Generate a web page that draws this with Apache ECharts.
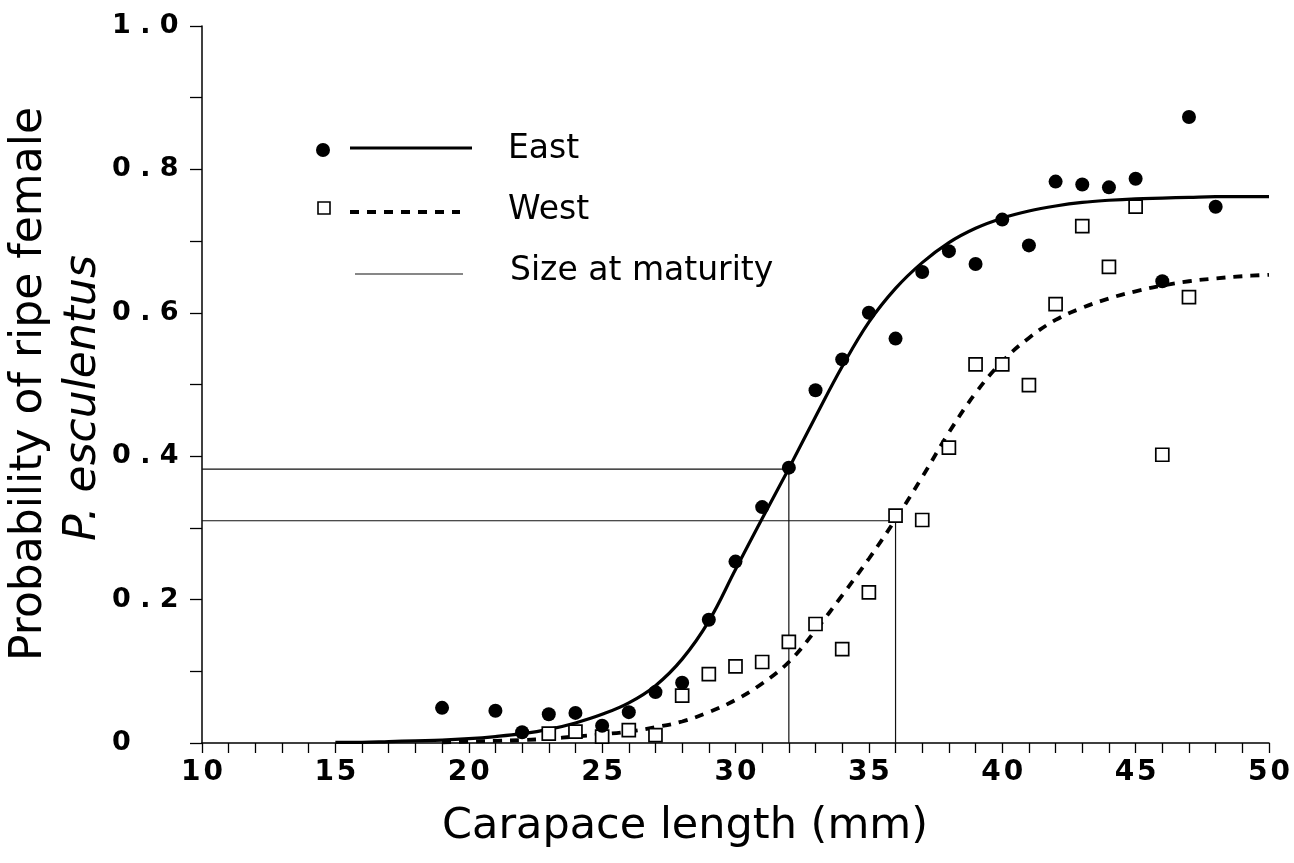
<!DOCTYPE html>
<html>
<head>
<meta charset="utf-8">
<script src="https://cdn.jsdelivr.net/npm/echarts@6/dist/echarts.min.js"></script>
<style>
html,body{margin:0;padding:0;background:#fff;}
#chart{width:1294px;height:863px;}
</style>
</head>
<body>
<div id="chart"></div>
<script>
// Observed proportions (carapace length in mm)
const eastX = [19,21,22,23,24,25,26,27,28,29,30,31,32,33,34,35,36,37,38,39,40,41,42,43,44,45,46,47,48];
const eastY = [0.049,0.045,0.015,0.040,0.042,0.024,0.043,0.071,0.084,0.172,0.253,0.329,0.384,0.492,0.535,0.600,0.564,0.657,0.686,0.668,0.730,0.694,0.783,0.779,0.775,0.787,0.644,0.873,0.748];
const westX = [23,24,25,26,27,28,29,30,31,32,33,34,35,36,37,38,39,40,41,42,43,44,45,46,47];
const westY = [0.013,0.016,0.009,0.018,0.011,0.066,0.096,0.107,0.113,0.141,0.166,0.131,0.210,0.317,0.311,0.412,0.528,0.528,0.499,0.612,0.721,0.664,0.748,0.402,0.622];

// Fitted curves at each mm
const eastFitX = [15,16,17,18,19,20,21,22,23,24,25,26,27,28,29,30,31,32,33,34,35,36,37,38,39,40,41,42,43,44,45,46,47,48,49,50];
const eastFitY = [0.001,0.001,0.002,0.003,0.004,0.006,0.009,0.013,0.019,0.028,0.040,0.056,0.080,0.117,0.170,0.242,0.313,0.383,0.455,0.525,0.587,0.634,0.670,0.698,0.718,0.732,0.742,0.749,0.754,0.757,0.759,0.760,0.761,0.762,0.762,0.762];
const westFitX = [19,20,21,22,23,24,25,26,27,28,29,30,31,32,33,34,35,36,37,38,39,40,41,42,43,44,45,46,47,48,49,50];
const westFitY = [0.001,0.002,0.003,0.004,0.006,0.009,0.012,0.016,0.022,0.030,0.043,0.060,0.083,0.113,0.157,0.206,0.257,0.312,0.371,0.433,0.488,0.532,0.565,0.590,0.607,0.620,0.630,0.638,0.644,0.648,0.651,0.653];

// Size at maturity
const maturityEast = {size: 32, prob: 0.382};
const maturityWest = {size: 36, prob: 0.310};

// Axis ticks
const xLabelTicks = [10,15,20,25,30,35,40,45,50];
const yLabelTicks = [0,0.2,0.4,0.6,0.8,1.0];
const legendLabels = ['East','West','Size at maturity'];
const xTitle = 'Carapace length (mm)';
const yTitle1 = 'Probability of ripe female';
const yTitle2 = 'P. esculentus';

const zip = (xs, ys) => xs.map((x, i) => [x, ys[i]]);
const FONT = '"DejaVu Sans", sans-serif';

const chart = echarts.init(document.getElementById('chart'), null, {renderer: 'canvas'});

function spaced(v) {
  if (Math.abs(v) < 1e-9) return '0';
  return v.toFixed(1).split('').join(' ');
}

const option = {
  backgroundColor: '#fff',
  animation: false,
  grid: {left: 202, right: 25, top: 26, bottom: 120, containLabel: false},
  xAxis: {
    type: 'value', min: 10, max: 50, interval: 1,
    axisLine: {show: true, lineStyle: {color: '#000', width: 1.5}},
    axisTick: {show: true, length: 10, inside: false, lineStyle: {color: '#000', width: 1.3}},
    splitLine: {show: false},
    axisLabel: {
      margin: 16, fontSize: 28, fontWeight: 'bold', fontFamily: FONT, color: '#000',
      formatter: v => xLabelTicks.some(t => Math.abs(t - v) < 1e-6) ? String(Math.round(v)).split('').join('\u200A') : ''
    }
  },
  yAxis: {
    type: 'value', min: 0, max: 1.0, interval: 0.1,
    axisLine: {show: true, lineStyle: {color: '#000', width: 1.5}},
    axisTick: {show: true, length: 12, inside: false, lineStyle: {color: '#000', width: 1.3}},
    splitLine: {show: false},
    axisLabel: {
      margin: 90, align: 'left', fontSize: 27, fontWeight: 'bold', fontFamily: FONT, color: '#000',
      formatter: v => yLabelTicks.some(t => Math.abs(t - v) < 1e-6) ? spaced(v) : ''
    }
  },
  series: [
    {
      name: 'Size at maturity East', type: 'line', symbol: 'none', silent: true,
      data: [[10, maturityEast.prob], [maturityEast.size, maturityEast.prob], [maturityEast.size, 0]],
      lineStyle: {color: '#111', width: 1.2}, z: 1
    },
    {
      name: 'Size at maturity West', type: 'line', symbol: 'none', silent: true,
      data: [[10, maturityWest.prob], [maturityWest.size, maturityWest.prob], [maturityWest.size, 0]],
      lineStyle: {color: '#111', width: 1.2}, z: 1
    },
    {
      name: 'East fit', type: 'line', smooth: 0.4, symbol: 'none',
      data: zip(eastFitX, eastFitY),
      lineStyle: {color: '#000', width: 3.2}, z: 2
    },
    {
      name: 'West fit', type: 'line', smooth: 0.4, symbol: 'none',
      data: zip(westFitX, westFitY),
      lineStyle: {color: '#000', width: 3.8, type: [9, 8], cap: 'butt'}, z: 2
    },
    {
      name: 'West', type: 'scatter', symbol: 'rect', symbolSize: 13,
      data: zip(westX, westY),
      itemStyle: {color: '#fff', borderColor: '#000', borderWidth: 1.7, opacity: 1}, z: 3
    },
    {
      name: 'East', type: 'scatter', symbol: 'circle', symbolSize: 14,
      data: zip(eastX, eastY),
      itemStyle: {color: '#000', opacity: 1}, z: 4
    }
  ],
  graphic: [
    // legend
    {type: 'circle', shape: {cx: 323, cy: 150, r: 7}, style: {fill: '#000'}},
    {type: 'line', shape: {x1: 350, y1: 148, x2: 472, y2: 148}, style: {stroke: '#000', lineWidth: 3}},
    {type: 'text', x: 508, y: 149, style: {text: legendLabels[0], font: '33px ' + FONT, fill: '#000', verticalAlign: 'middle'}},
    {type: 'rect', shape: {x: 318, y: 202, width: 12, height: 12}, style: {fill: '#fff', stroke: '#000', lineWidth: 1.6}},
    {type: 'line', shape: {x1: 350, y1: 212, x2: 460, y2: 212}, style: {stroke: '#000', lineWidth: 3.8, lineDash: [9, 8]}},
    {type: 'text', x: 508, y: 210, style: {text: legendLabels[1], font: '33px ' + FONT, fill: '#000', verticalAlign: 'middle'}},
    {type: 'line', shape: {x1: 355, y1: 274, x2: 463, y2: 274}, style: {stroke: '#111', lineWidth: 1.2}},
    {type: 'text', x: 510, y: 271, style: {text: legendLabels[2], font: '33px ' + FONT, fill: '#000', verticalAlign: 'middle'}},
    // axis titles
    {type: 'text', x: 685, y: 827, style: {text: xTitle, font: '43px ' + FONT, fill: '#000', align: 'center', verticalAlign: 'middle'}},
    {type: 'text', x: 30, y: 384, rotation: Math.PI / 2, style: {text: yTitle1, font: '44px ' + FONT, fill: '#000', align: 'center', verticalAlign: 'middle'}},
    {type: 'text', x: 84, y: 398, rotation: Math.PI / 2, style: {text: yTitle2, font: 'italic 44px ' + FONT, fill: '#000', align: 'center', verticalAlign: 'middle'}}
  ]
};
chart.setOption(option);
</script>
</body>
</html>
